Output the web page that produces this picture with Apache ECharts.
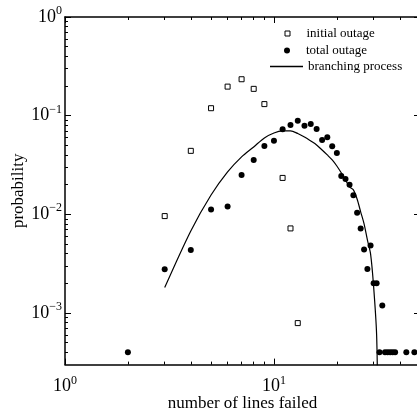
<!DOCTYPE html>
<html>
<head>
<meta charset="utf-8">
<script src="https://cdn.jsdelivr.net/npm/echarts@6/dist/echarts.min.js"></script>
<style>
  html, body { margin: 0; padding: 0; background: #fff; }
  #ch { width: 417px; height: 417px; }
</style>
</head>
<body>
<div id="ch"></div>
<script>
const cht = echarts.init(document.getElementById('ch'));

// initial outage (hollow squares)
const initialN = [3, 4, 5, 6, 7, 8, 9, 11, 12, 13];
const initialP = [9.6e-3, 4.4e-2, 0.119, 0.197, 0.234, 0.187, 0.131, 2.34e-2, 7.2e-3, 7.9e-4];

// total outage (filled dots)
const totalN = [2, 3, 4, 5, 6, 7, 8, 9, 10, 11, 12, 13, 14, 15, 16, 17, 18, 19, 20,
  21, 22, 23, 24, 25, 26, 27, 28, 29, 30, 31, 32, 33, 34, 35, 36, 37, 38, 43, 47];
const totalP = [4.0e-4, 2.78e-3, 4.36e-3, 1.12e-2, 1.2e-2, 2.51e-2, 3.56e-2, 4.93e-2, 5.58e-2,
  7.28e-2, 8.05e-2, 8.89e-2, 7.92e-2, 8.24e-2, 7.33e-2, 5.67e-2, 6.04e-2, 4.9e-2, 4.19e-2,
  2.45e-2, 2.28e-2, 2.0e-2, 1.56e-2, 1.04e-2, 7.2e-3, 4.39e-3, 2.8e-3, 4.82e-3, 2.0e-3,
  2.0e-3, 4.0e-4, 1.19e-3, 4.0e-4, 4.0e-4, 4.0e-4, 4.0e-4, 4.0e-4, 4.0e-4, 4.0e-4];

// branching process curve
const branchN = [3, 4, 5, 6, 7, 8, 9, 10, 11, 12, 13, 14, 15, 16, 17, 18, 19, 20,
  21, 22, 23, 24, 25, 26, 27, 28, 29, 30, 31, 31.4];
const branchP = [1.81e-3, 6.79e-3, 1.57e-2, 2.69e-2, 3.82e-2, 4.82e-2, 5.95e-2, 6.68e-2,
  7.0e-2, 7.0e-2, 6.6e-2, 6.08e-2, 5.54e-2, 5.05e-2, 4.49e-2, 4.0e-2, 3.56e-2, 3.09e-2,
  2.63e-2, 2.23e-2, 1.9e-2, 1.77e-2, 1.43e-2, 1.06e-2, 8.0e-3, 5.5e-3, 3.97e-3, 1.84e-3,
  6.0e-4, 1.0e-4];

const xMajor = [1, 10];
const xMinor = [2, 3, 4, 5, 6, 7, 8, 9, 20, 30, 40, 50];
const yMajor = [1e-3, 1e-2, 1e-1, 1];
const yMinor = [4e-4, 5e-4, 6e-4, 7e-4, 8e-4, 9e-4,
  2e-3, 3e-3, 4e-3, 5e-3, 6e-3, 7e-3, 8e-3, 9e-3,
  2e-2, 3e-2, 4e-2, 5e-2, 6e-2, 7e-2, 8e-2, 9e-2,
  0.2, 0.3, 0.4, 0.5, 0.6, 0.7, 0.8, 0.9];

const font = 'Liberation Serif';
const pairs = (xs, ys) => xs.map((x, i) => [x, ys[i]]);

function powLabel(v) {
  const e = Math.round(Math.log10(v));
  return '{b|10}{s|' + (e < 0 ? '\u2212' + (-e) : e) + '}';
}
const richPow = {
  b: { fontFamily: font, fontSize: 18, lineHeight: 24, color: '#000' },
  s: { fontFamily: font, fontSize: 12, lineHeight: 12, verticalAlign: 'top', color: '#000' },
};

function xAx(pos, major, labels) {
  return {
    type: 'log', logBase: 10, min: 1, max: 50, position: pos,
    axisLine: { show: major, lineStyle: { color: '#000', width: 1.5 } },
    axisTick: {
      show: true, inside: true, length: major ? 6 : 3,
      customValues: major ? xMajor : xMinor,
      lineStyle: { color: '#000', width: 1 },
    },
    axisLabel: labels ? {
      show: true, customValues: xMajor, formatter: powLabel, rich: richPow, margin: 10,
    } : { show: false },
    splitLine: { show: false },
    minorTick: { show: false },
  };
}
function yAx(pos, major, labels) {
  return {
    type: 'log', logBase: 10, min: 3e-4, max: 1, position: pos,
    axisLine: { show: major, lineStyle: { color: '#000', width: 1.5 } },
    axisTick: {
      show: true, inside: true, length: major ? 6 : 3,
      customValues: major ? yMajor : yMinor,
      lineStyle: { color: '#000', width: 1 },
    },
    axisLabel: labels ? {
      show: true, customValues: yMajor, formatter: powLabel, rich: richPow, margin: 3,
    } : { show: false },
    splitLine: { show: false },
    minorTick: { show: false },
  };
}

const xMain = xAx('bottom', true, true);
xMain.name = 'number of lines failed';
xMain.nameLocation = 'middle';
xMain.nameGap = 30;
xMain.nameMoveOverlap = false;
xMain.nameTextStyle = { fontFamily: font, fontSize: 17, color: '#000' };

const yMain = yAx('left', true, true);
yMain.name = 'probability';
yMain.nameLocation = 'middle';
yMain.nameGap = 38;
yMain.nameMoveOverlap = false;
yMain.nameTextStyle = { fontFamily: font, fontSize: 17, color: '#000' };

const legText = { fontFamily: font, fontSize: 13, color: '#000' };

const option = {
  animation: false,
  backgroundColor: '#fff',
  grid: { left: 65, top: 17, right: -3, bottom: 52.4, outerBoundsMode: 'none', containLabel: false },
  legend: [
    {
      left: 284.5, top: 27, padding: 0, itemWidth: 5, itemHeight: 5,
      textStyle: Object.assign({ padding: [0, 0, 0, 11.5] }, legText),
      data: [{ name: 'initial outage', icon: 'rect',
        itemStyle: { color: '#fff', borderColor: '#000', borderWidth: 1 } }],
    },
    {
      left: 284, top: 44, padding: 0, itemWidth: 6, itemHeight: 6,
      textStyle: Object.assign({ padding: [0, 0, 0, 11] }, legText),
      data: [{ name: 'total outage', icon: 'circle' }],
    },
    {
      left: 270, top: 60, padding: 0, itemWidth: 33, itemHeight: 1.3,
      textStyle: legText,
      data: [{ name: 'branching process', icon: 'rect',
        itemStyle: { color: '#000', borderWidth: 0 } }],
    },
  ],
  xAxis: [xMain, xAx('bottom', false, false), xAx('top', true, false), xAx('top', false, false)],
  yAxis: [yMain, yAx('left', false, false), yAx('right', true, false), yAx('right', false, false)],
  series: [
    {
      name: 'initial outage',
      type: 'scatter',
      symbol: 'rect',
      symbolSize: 5,
      itemStyle: { color: '#fff', borderColor: '#000', borderWidth: 1, opacity: 1 },
      data: pairs(initialN, initialP),
    },
    {
      name: 'total outage',
      type: 'scatter',
      symbol: 'circle',
      symbolSize: 6,
      itemStyle: { color: '#000', opacity: 1 },
      data: pairs(totalN, totalP),
    },
    {
      name: 'branching process',
      type: 'line',
      smooth: 0.3,
      symbol: 'none',
      showSymbol: false,
      lineStyle: { color: '#000', width: 1.2 },
      itemStyle: { color: '#000' },
      data: pairs(branchN, branchP),
    },
  ],
};
cht.setOption(option);
</script>
</body>
</html>
